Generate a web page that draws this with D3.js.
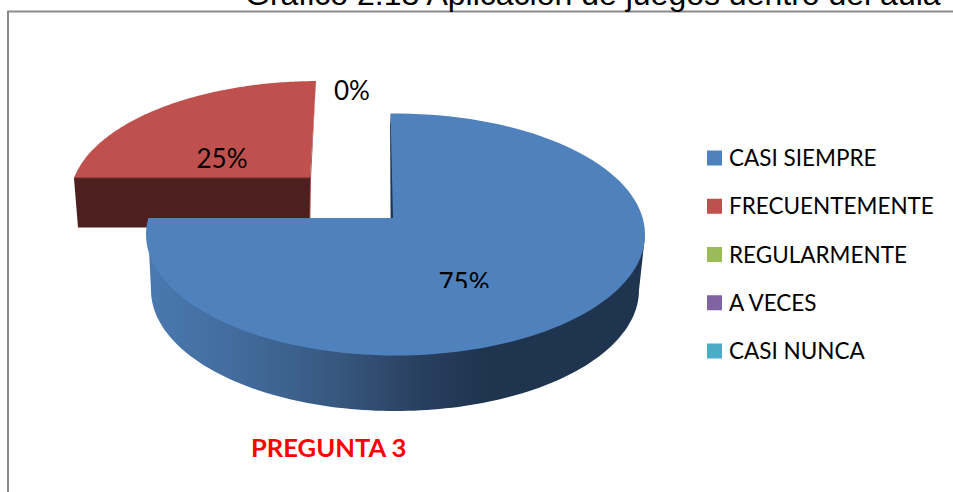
<!DOCTYPE html>
<html><head><meta charset="utf-8">
<script src="https://cdn.jsdelivr.net/npm/d3@7"></script>
<style>html,body{margin:0;padding:0;background:#fff;overflow:hidden}svg{display:block}</style>
</head><body><svg id="c" width="953" height="492"></svg>
<script>
const categories = ["CASI SIEMPRE","FRECUENTEMENTE","REGULARMENTE","A VECES","CASI NUNCA"];
const values = [75,25,0,0,0];
const colors = ["#4f81bd","#c0504d","#9bbb59","#8064a2","#4bacc6"];
const titleText = "Gráfico 2.13 Aplicación de juegos dentro del aula";
const axisTitle = "PREGUNTA 3";

const svg = d3.select("#c");
const defs = svg.append("defs");
const total = d3.sum(values);
const arcs = d3.pie().sort(null).value(d=>d)(values);

// ellipse geometry (perspective look of the 3D pie)
const blue = {cx:395.5, cy:234.5, rx:249.5, ry:121};
const blueBottom = {cx:395, cy:290, rx:244, ry:121};
const red = {cx:319, cy:199, rx:249, ry:118};
const blueT = d3.scaleLinear().domain([0,Math.PI*1.5]).range([-0.02,Math.PI*2-1.434]);
const redT = d3.scaleLinear().domain([Math.PI*1.5,Math.PI*2]).range([-1.392,-0.012]);
const pt = (e,t)=>[e.cx+e.rx*Math.sin(t), e.cy-e.ry*Math.cos(t)];
const sample = (e,t0,t1)=>d3.range(0,121).map(i=>pt(e,t0+(t1-t0)*i/120));
const line = d3.line();

// frame
svg.append("path").attr("d","M8,492V11.5H953").attr("fill","none").attr("stroke","#8a8a8a").attr("stroke-width",2);

// title
svg.append("text").attr("x",245).attr("y",5).attr("font-family","Liberation Sans").attr("font-size",32).attr("fill","#000").text(titleText);

const [bA,rA] = arcs;
const rV = [310,178];
const rStart = pt(red,redT(rA.startAngle)), rEnd = pt(red,redT(rA.endAngle));

// red slice: wall, side, top
svg.append("path").attr("d",line([rStart,rV,[310,240],[147,240],[147,227.5],[78,227.5]])+"Z").attr("fill","#4d1f1e");
svg.append("path").attr("d",line([rEnd,[315,100],[311,178],[310,240],[309,240],rV])+"Z").attr("fill","#a34644");
svg.append("path").attr("d",line([rV,...sample(red,redT(rA.startAngle),redT(rA.endAngle))])+"Z").attr("fill",colors[1]);
svg.append("path").attr("d",line([rStart,rV])).attr("stroke","#6e3533").attr("stroke-width",1).attr("fill","none");

// blue wall gradient
const g = defs.append("linearGradient").attr("id","wall").attr("gradientUnits","userSpaceOnUse")
  .attr("x1",147).attr("x2",645).attr("y1",0).attr("y2",0);
[[0,"#4a79b0"],[0.2,"#416a9a"],[0.38,"#37587f"],[0.55,"#293f5f"],[0.68,"#1f344e"],[1,"#1f344e"]]
  .forEach(s=>g.append("stop").attr("offset",s[0]).attr("stop-color",s[1]));
const bOut = sample(blueBottom,Math.PI*1.5,Math.PI*0.5);
const bV = [393,218];
const bLeft = pt(blue,blueT(bA.endAngle));
svg.append("path").attr("d",line([bLeft,[149,250],...bOut,[645,236]])+"Z").attr("fill","url(#wall)");
// inner sliver
svg.append("path").attr("d",line([[390,113],[390.6,218],[395.5,218],[393,150]])+"Z").attr("fill","#1f344e");
// blue top
svg.append("path").attr("d",line([bV,...sample(blue,blueT(bA.startAngle),blueT(bA.endAngle))])+"Z").attr("fill",colors[0]);

// data labels
const fmt = v=>Math.round(v/total*100)+"%";
const labelFont = "Lato";
defs.append("clipPath").attr("id","lc").append("rect").attr("x",420).attr("y",260).attr("width",90).attr("height",28);
const labels = [[values[0],464,292,"url(#lc)"],[values[1],222,167.5,null],[values[2],352,100,null]];
labels.forEach(l=>{
  const t = svg.append("text").attr("x",l[1]).attr("y",l[2]).attr("text-anchor","middle")
    .attr("font-family",labelFont).attr("font-size",26).attr("fill","#000").text(fmt(l[0]));
  if(l[3]) t.attr("clip-path",l[3]);
});

// legend
const legY = d3.scalePoint().domain(categories).range([158,351]);
categories.forEach((c,i)=>{
  svg.append("rect").attr("x",707).attr("y",legY(c)-7.5).attr("width",15).attr("height",15).attr("fill",colors[i]);
  svg.append("text").attr("x",729).attr("y",legY(c)+8).attr("font-family",labelFont).attr("font-size",22.5).attr("fill","#000").text(c);
});

// bottom title
svg.append("text").attr("x",251).attr("y",457).attr("font-family",labelFont).attr("font-weight",700).attr("font-size",25.6).attr("fill","#ff0000").text(axisTitle);
</script></body></html>
